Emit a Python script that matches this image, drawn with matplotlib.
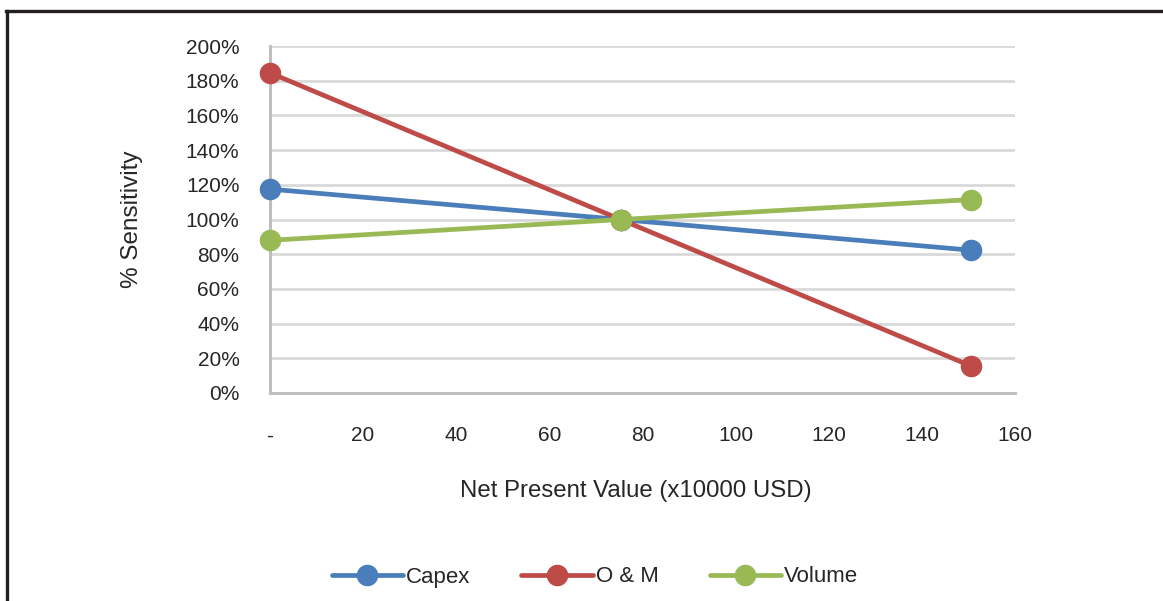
import matplotlib
matplotlib.use("Agg")
import matplotlib.pyplot as plt
from matplotlib.lines import Line2D
from matplotlib.ticker import FuncFormatter

# ---- data ----
npv_x = [0, 75.3, 150.6]
capex = [117.5, 100, 82.3]
om = [184.5, 100, 15.5]
volume = [88, 100, 111.5]
series_names = ["Capex", "O & M", "Volume"]
x_ticks = [0, 20, 40, 60, 80, 100, 120, 140, 160]
x_tick_labels = ["-", "20", "40", "60", "80", "100", "120", "140", "160"]
y_ticks = [0, 20, 40, 60, 80, 100, 120, 140, 160, 180, 200]

colors = ["#4A7EBB", "#BE4B48", "#98B954"]
plt.rcParams['font.family'] = ['Liberation Sans', 'DejaVu Sans']
text_color = "#262626"

W, H = 1163, 601
fig = plt.figure(figsize=(W / 100, H / 100), dpi=100)
ax = fig.add_axes([270 / W, 1 - 393 / H, (1015 - 270) / W, (393 - 46) / H])

for vals, name, c in zip([capex, om, volume], series_names, colors):
    ax.plot(npv_x, vals, color=c, lw=3.4, marker='o', markersize=14.5,
            label=name, solid_capstyle='round', zorder=3, clip_on=False)

ax.set_xlim(0, 160)
ax.set_ylim(0, 200)
ax.set_xticks(x_ticks)
ax.set_xticklabels(x_tick_labels)
ax.set_yticks(y_ticks)
ax.yaxis.set_major_formatter(FuncFormatter(lambda v, p: f"{v:.0f}%"))
ax.grid(axis='y', color='#d9d9d9', lw=2, zorder=0)
ax.grid(axis='x', visible=False)
ax.set_axisbelow(True)
for s in ['top', 'right']:
    ax.spines[s].set_visible(False)
for s in ['left', 'bottom']:
    ax.spines[s].set_color('#bfbfbf')
    ax.spines[s].set_linewidth(2.2)
ax.tick_params(axis='both', length=0, labelsize=15, colors=text_color)
ax.tick_params(axis='x', pad=24)
ax.tick_params(axis='y', pad=22)

ax.set_xlabel("Net Present Value (x10000 USD)", fontsize=17.3, color=text_color, labelpad=24)
ax.xaxis.set_label_coords((636 - 270) / (1015 - 270), -0.25)
ax.set_ylabel("% Sensitivity", fontsize=17.5, color=text_color, labelpad=31)

leg = fig.legend(loc='center', bbox_to_anchor=(595 / W, 1 - 577 / H), ncol=3, frameon=False,
                 fontsize=16, handlelength=3.2, handletextpad=0.15, columnspacing=2.3,
                 labelcolor=text_color)

# frame lines (top and left)
fig.add_artist(Line2D([6 / W, 1], [1 - 10.5 / H, 1 - 10.5 / H], transform=fig.transFigure,
                      color='#231f20', lw=2.4))
fig.add_artist(Line2D([6.5 / W, 6.5 / W], [0, 1 - 10.5 / H], transform=fig.transFigure,
                      color='#231f20', lw=2.4))

fig.savefig("out.png", dpi=100, facecolor='white')
